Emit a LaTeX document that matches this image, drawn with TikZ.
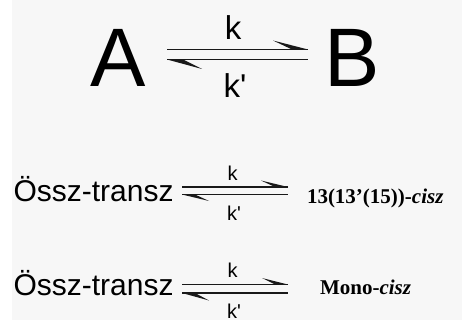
\documentclass[tikz,border=0pt]{standalone}
\usepackage{fontspec}
\setmainfont{Liberation Sans}
\newfontfamily\ksans{Liberation Sans}[Ligatures=TeXOff]
\newfontfamily\timesfont{Liberation Serif}
\newcommand{\kprime}{{\ksans k'}}
\begin{document}
\begin{tikzpicture}[x=1pt,y=-1pt,
  lbl/.style={inner sep=0pt,outer sep=0pt,anchor=base west},
  klbl/.style={inner sep=0pt,outer sep=0pt,anchor=base},
  eqline/.style={line width=#1,draw=black!90},
  barb/.style={fill=black!90,draw=none}]
\fill[white] (0,0) rectangle (462,320);
\fill[gray!6] (12,0) rectangle (462,320);
\useasboundingbox (0,0) rectangle (462,320);
% ---- top ----
\node[lbl,font=\fontsize{83}{83}\selectfont] (A) at (90,87) {A};
\node[lbl,font=\fontsize{83}{83}\selectfont] (B) at (324,87) {B};
\coordinate (t1s) at (167,49.5); \coordinate (t1e) at (308,49.5);
\coordinate (t2s) at (167,59.5); \coordinate (t2e) at (308,59.5);
\draw[eqline=1.8pt] (t1s) -- (t1e);
\draw[eqline=1.8pt] (t2s) -- (t2e);
\fill[barb] (t1e) -- (273,40.5) -- (292,49.5) -- cycle;
\fill[barb] (t2s) -- (202,69) -- (183,59.5) -- cycle;
\node[klbl,font=\fontsize{33}{33}\selectfont] (tk) at (233,40) {k};
\node[klbl,font=\fontsize{33}{33}\selectfont] (tkp) at (235,98) {\kprime};
% ---- middle ----
\node[lbl,font=\fontsize{30}{30}\selectfont] (O1) at (13.5,201) {Össz-transz};
\coordinate (m1s) at (182,187); \coordinate (m1e) at (288,187);
\coordinate (m2s) at (182,194.5); \coordinate (m2e) at (288,194.5);
\draw[eqline=1.4pt] (m1s) -- (m1e);
\draw[eqline=1.4pt] (m2s) -- (m2e);
\fill[barb] (m1e) -- (261,180.5) -- (275,187) -- cycle;
\fill[barb] (m2s) -- (209,201) -- (195,194.5) -- cycle;
\node[klbl,font=\fontsize{20}{20}\selectfont] (mk) at (232.5,180) {k};
\node[klbl,font=\fontsize{20}{20}\selectfont] (mkp) at (234,220) {\kprime};
\node[lbl,font=\timesfont\bfseries\fontsize{21}{21}\selectfont] (C1) at (307,203) {13(13’(15))-\textit{cisz}};
% ---- bottom ----
\node[lbl,font=\fontsize{30}{30}\selectfont] (O2) at (13.5,295) {Össz-transz};
\coordinate (b1s) at (182,284.5); \coordinate (b1e) at (288,284.5);
\coordinate (b2s) at (182,293); \coordinate (b2e) at (288,293);
\draw[eqline=1.4pt] (b1s) -- (b1e);
\draw[eqline=1.4pt] (b2s) -- (b2e);
\fill[barb] (b1e) -- (262,278) -- (275,284.5) -- cycle;
\fill[barb] (b2s) -- (209,300.5) -- (195,293) -- cycle;
\node[klbl,font=\fontsize{20}{20}\selectfont] (bk) at (232.5,277) {k};
\node[klbl,font=\fontsize{20}{20}\selectfont] (bkp) at (234,318) {\kprime};
\node[lbl,font=\timesfont\bfseries\fontsize{21}{21}\selectfont] (C2) at (320,294) {Mono-\textit{cisz}};
\end{tikzpicture}
\end{document}
